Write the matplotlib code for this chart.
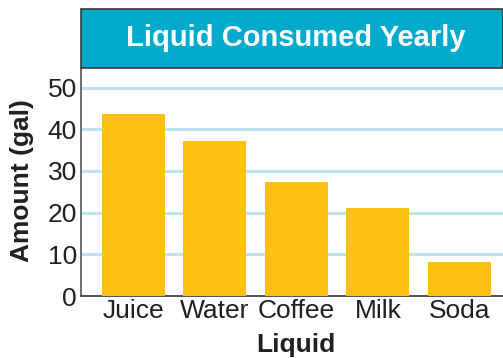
import matplotlib
matplotlib.use("Agg")
import matplotlib.pyplot as plt
from matplotlib.patches import Rectangle

plt.rcParams['font.family'] = ['Liberation Sans', 'DejaVu Sans']

# data
liquids = ["Juice", "Water", "Coffee", "Milk", "Soda"]
amounts = [43.6, 37.2, 27.3, 21.1, 8.2]
yticks = [0, 10, 20, 30, 40, 50]

W, H = 503, 358
fig = plt.figure(figsize=(W / 100, H / 100), dpi=100)

def fx(px):
    return px / W

def fy(py):
    return 1 - py / H

ax = fig.add_axes([fx(81), fy(296), fx(503) - fx(81), fy(68) - fy(296)])

ax.bar(range(len(liquids)), amounts, width=0.77, color="#fdc010", zorder=3)
ax.set_xlim(-0.642, 4.536)
ax.set_ylim(0, 54.7)
ax.set_yticks(yticks)
ax.set_xticks(range(len(liquids)))
ax.set_xticklabels(liquids)

for y in yticks[1:]:
    ax.axhline(y, color="#bfe3ee", linewidth=2.2, zorder=1)

for s in ("top", "right"):
    ax.spines[s].set_visible(False)
ax.spines["left"].set_color("#555555")
ax.spines["bottom"].set_color("#333333")
ax.spines["left"].set_linewidth(1.2)
ax.spines["bottom"].set_linewidth(1.2)
ax.tick_params(axis="both", length=0, labelsize=19, labelcolor="#231f20")
ax.tick_params(axis="y", pad=3)
ax.tick_params(axis="x", pad=2)

ax.set_xlabel("Liquid", fontsize=19, fontweight="bold", color="#231f20")
ax.set_ylabel("Amount (gal)", fontsize=19, fontweight="bold", color="#231f20")
ax.xaxis.set_label_coords(0.509, -0.215)
ax.yaxis.set_label_coords(-0.14, 0.507)
ax.xaxis.label.set_va("center")
ax.yaxis.label.set_va("center")

# title banner
box = Rectangle((fx(81), fy(68)), fx(503) - fx(81), fy(9) - fy(68),
                transform=fig.transFigure, facecolor="#00aacc",
                edgecolor="#3a3a3a", linewidth=1.2, clip_on=False)
fig.patches.append(box)
fig.text(fx(296), fy(38.5), "Liquid Consumed Yearly",
         ha="center", va="center", fontsize=21, fontweight="bold", color="white")

fig.savefig("out.png", dpi=100)
